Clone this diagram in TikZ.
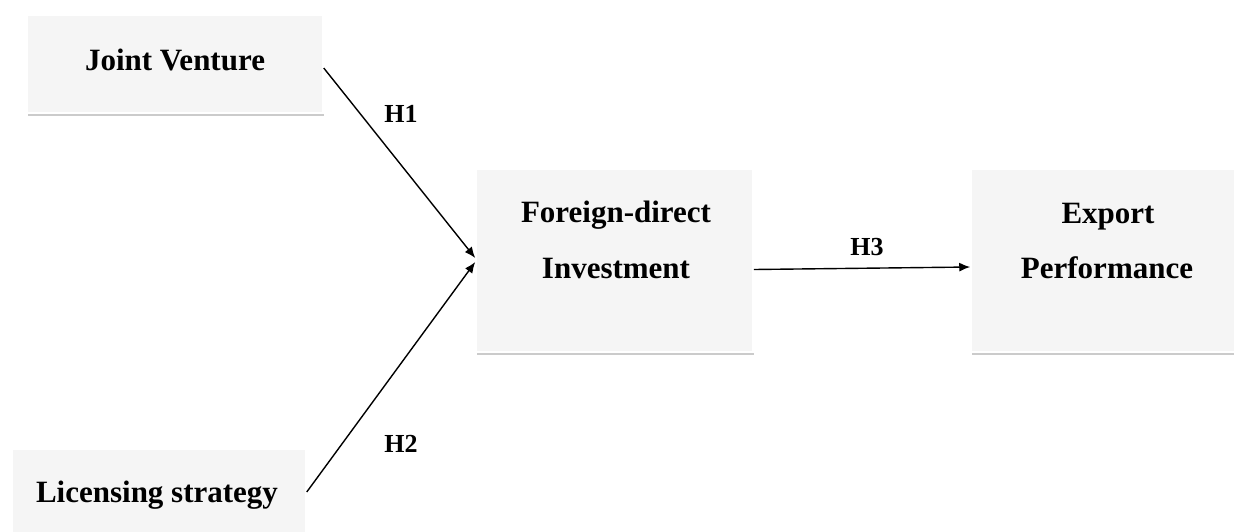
\documentclass[tikz,border=0pt]{standalone}
\usepackage{fontspec}
\setmainfont{Liberation Serif}
\usetikzlibrary{arrows.meta,shadows}
\tikzset{
  box/.style={draw=white, line width=1.5pt, fill=black!4, rectangle, inner sep=0pt,
    drop shadow={shadow xshift=1pt, shadow yshift=-2.5pt, opacity=0.45, fill=black!45}},
  boxtext/.style={font=\fontsize{31}{36}\selectfont\bfseries, anchor=base, inner sep=0pt},
  hlabel/.style={font=\fontsize{26}{30}\selectfont\bfseries, anchor=base, inner sep=0pt},
  conn/.style={line width=1.4pt, -{Latex[length=11pt,width=9pt]}}
}
\begin{document}
\begin{tikzpicture}[x=1pt,y=-1pt]
\useasboundingbox (0,0) rectangle (1234,531);
\clip (0,0) rectangle (1234,531);
\node[box, minimum width=296pt, minimum height=98pt] (jv) at (175,64) {};
\node[box, minimum width=294pt, minimum height=96pt] (lic) at (159,497) {};
\node[box, minimum width=277pt, minimum height=183pt] (fdi) at (614.5,260.5) {};
\node[box, minimum width=279pt, minimum height=183pt] (exp) at (1110.5,260.5) {};
\node[boxtext] (jvt) at (175,70) {Joint Venture};
\node[boxtext] (lict) at (157,502) {Licensing strategy};
\node[boxtext] (fdit1) at (616,222) {Foreign-direct};
\node[boxtext] (fdit2) at (616,278) {Investment};
\node[boxtext] (expt1) at (1108,223) {Export};
\node[boxtext] (expt2) at (1107,278) {Performance};
\draw[conn] ([yshift=-4pt]jv.east) -- ([yshift=2.5pt]fdi.west);
\draw[conn] ([yshift=5pt]lic.east) -- ([yshift=-1.5pt]fdi.west);
\draw[conn] ([yshift=-9pt]fdi.east) -- ([yshift=-6.5pt]exp.west);
\node[hlabel] (h1) at (401,122) {H1};
\node[hlabel] (h2) at (401,452) {H2};
\node[hlabel] (h3) at (867,255) {H3};
\end{tikzpicture}
\end{document}
